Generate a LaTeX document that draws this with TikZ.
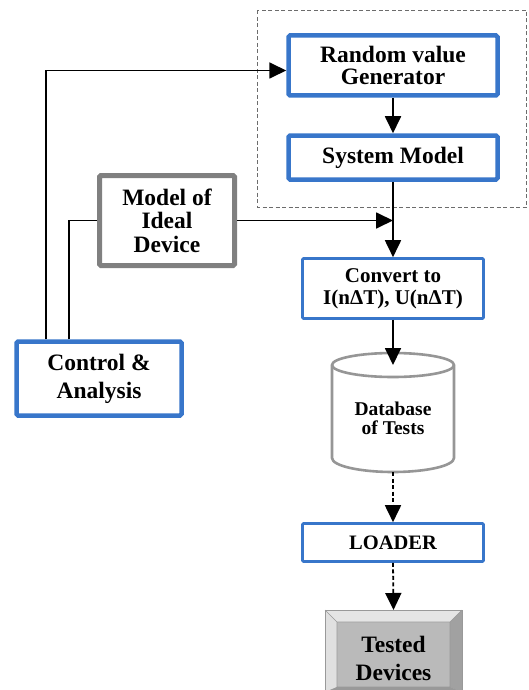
\documentclass[tikz,border=0pt]{standalone}
\usepackage{fontspec}
\setmainfont{Liberation Serif}
\usetikzlibrary{arrows.meta}
\definecolor{bblue}{RGB}{56,118,202}
\definecolor{gbox}{RGB}{128,128,128}
\definecolor{gcyl}{RGB}{150,150,150}
\tikzset{
  every node/.style={align=center, inner sep=0pt},
  bluebox/.style={draw=bblue, line width=4.5pt, rounded corners=1.5pt, fill=white},
  thinblue/.style={draw=bblue, line width=2.6pt, rounded corners=1pt, fill=white},
  graybox/.style={draw=gbox, line width=5pt, rounded corners=1.5pt, fill=white},
  conn/.style={line width=1.8pt, draw=black},
  arr/.style={conn, -{Triangle[length=17pt,width=16pt]}},
  darr/.style={arr, dash pattern=on 4pt off 2.5pt},
}
\begin{document}
\begin{tikzpicture}[x=1pt,y=-1pt]
\useasboundingbox (0,0) rectangle (528,690);
% dashed frame
\draw[gray!85!black, line width=1pt, dash pattern=on 4pt off 2.5pt] (257.5,10.5) rectangle (526.5,207);
% boxes
\node[bluebox, minimum width=209pt, minimum height=60pt,
  font=\fontsize{23.5}{22}\selectfont\bfseries] (rvg) at (393,65.5)
  {Random value\\Generator};
\node[bluebox, minimum width=209pt, minimum height=44pt,
  font=\fontsize{23.5}{22}\selectfont\bfseries] (sm) at (393,157.5)
  {System Model};
\node[graybox, minimum width=135pt, minimum height=90pt,
  font=\fontsize{23.5}{23.5}\selectfont\bfseries] (ideal) at (167,220.5)
  {Model of\\Ideal\\Device};
\node[bluebox, minimum width=165pt, minimum height=74pt,
  font=\fontsize{23.5}{28}\selectfont\bfseries] (ctrl) at (99,378.5)
  {Control \&\\Analysis};
\node[thinblue, minimum width=181pt, minimum height=60pt,
  font=\fontsize{21}{22}\selectfont\bfseries] (conv) at (393,288.5)
  {Convert to\\I(nΔT), U(nΔT)};
% cylinder
\draw[gcyl, line width=2.6pt, fill=white]
  (332,365) arc[start angle=180, end angle=0, x radius=61pt, y radius=12pt]
  -- (454,458) arc[start angle=0, end angle=-180, x radius=61pt, y radius=14pt] -- cycle;
\draw[gcyl, line width=2.6pt]
  (332,365) arc[start angle=180, end angle=360, x radius=61pt, y radius=12pt];
\node[font=\fontsize{19.5}{19}\selectfont\bfseries] (db) at (393,418) {Database\\of Tests};
\coordinate (dbbot) at (393,472);
\node[thinblue, minimum width=181pt, minimum height=38pt,
  font=\fontsize{20.5}{22}\selectfont\bfseries] (loader) at (393,542.5)
  {LOADER};
% tested devices (bevel)
\fill[gray!54] (325,610) rectangle (462,692);
\fill[gray!20] (325,610) -- (462,610) -- (450,622) -- (337,622) -- cycle;
\fill[gray!24] (325,610) -- (337,622) -- (337,687) -- (325,692) -- cycle;
\fill[gray!74] (462,610) -- (450,622) -- (450,687) -- (462,692) -- cycle;
\fill[gray!80] (337,687) -- (450,687) -- (462,692) -- (325,692) -- cycle;
\draw[gray!80, line width=1pt] (325,610) rectangle (462,692);
\draw[gray!80, line width=0.6pt] (325,610) -- (337,622) (462,610) -- (450,622)
  (337,622) rectangle (450,687);
\node[minimum width=113pt, minimum height=65pt,
  font=\fontsize{23.5}{28}\selectfont\bfseries] (tested) at (393.5,658.5)
  {Tested\\Devices};
\coordinate (ttop) at (393.5,610);
% connectors
\coordinate (rvgin) at (rvg.west |- 0,70.5);
\draw[arr] (rvg) -- (sm);
\draw[arr] (sm.south) -- (conv.north);
\coordinate (join) at (sm.south |- ideal.east);
\draw[arr] (ideal.east) -- (join);
\draw[arr] (ctrl.north -| 46,0) |- (rvgin);
\draw[conn] (ctrl.north -| 69,0) |- (ideal.west);
\draw[arr] (conv.south) -- (393,365);
\draw[darr] (dbbot) -- (loader.north);
\draw[darr] (loader.south) -- (ttop);
\end{tikzpicture}
\end{document}
